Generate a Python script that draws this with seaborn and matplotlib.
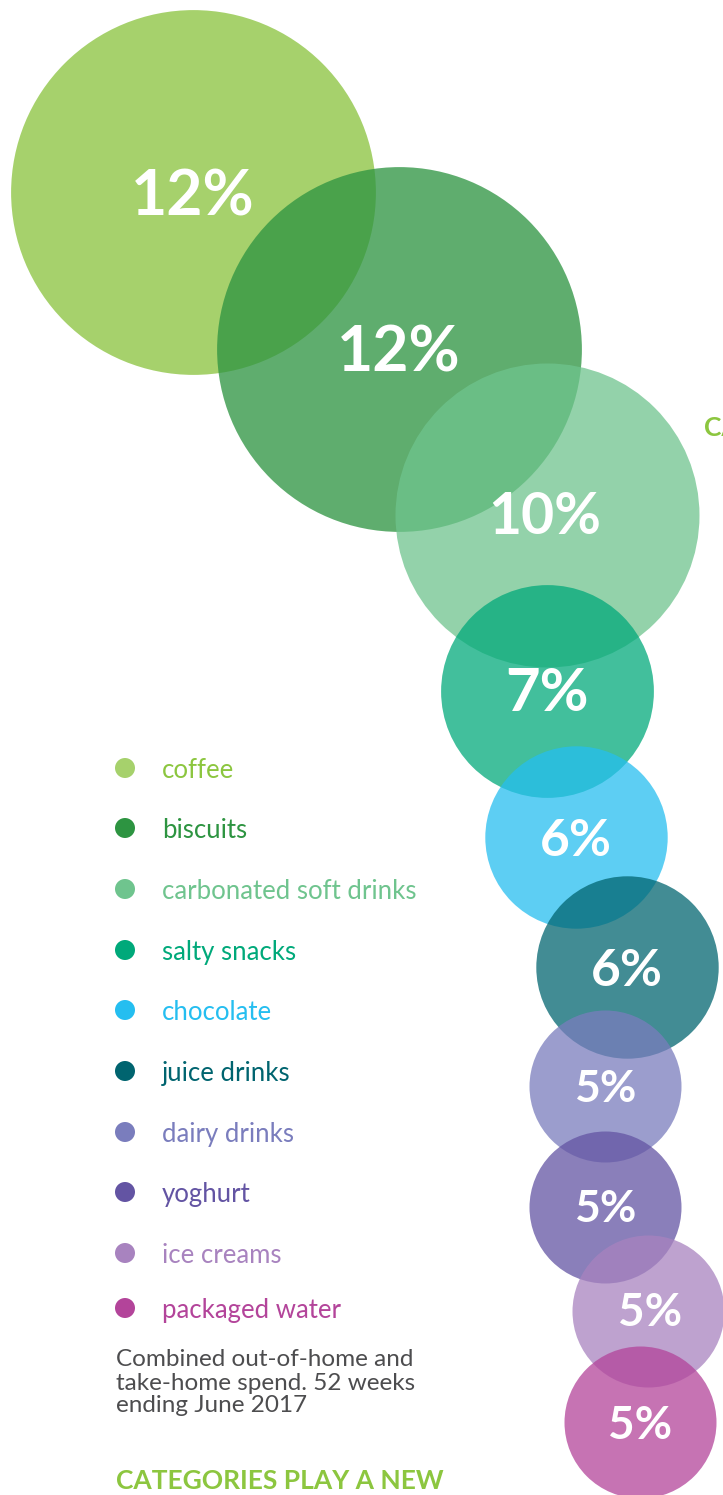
import matplotlib
matplotlib.use("Agg")
import matplotlib.pyplot as plt
import seaborn as sns
import pandas as pd

# ---- data ----
categories = ["coffee", "biscuits", "carbonated soft drinks", "salty snacks", "chocolate",
              "juice drinks", "dairy drinks", "yoghurt", "ice creams", "packaged water"]
shares = [12, 12, 10, 7, 6, 6, 5, 5, 5, 5]
labels = ["12%", "12%", "10%", "7%", "6%", "6%", "5%", "5%", "5%", "5%"]
colors = ["#a6d16c", "#2d9441", "#6fc48e", "#00a97a", "#25bef0",
          "#00646f", "#7a7dbd", "#6354a3", "#a883bf", "#b3449a"]
footnote_lines = ["Combined out-of-home and", "take-home spend. 52 weeks", "ending June 2017"]
heading = "CATEGORIES PLAY A NEW"

# ---- layout (pixel positions) ----
W, H = 723, 1495
bubble_x = [193, 399, 547, 547, 576, 627, 605, 605, 648, 640]
bubble_y = [192, 349, 515, 691, 837, 967, 1086, 1207, 1311, 1422]
label_dx = [0, 0, -2, 0, 0, 0, 0, 0, 2, 0]
label_dy = [5, 4, 3, 3, 4, 4, 3, 2, 2, 4]
label_fs = [45, 45, 41, 43, 37, 37, 32, 32, 33, 33]
alphas = [1.0, 0.76, 0.75, 0.74, 0.74, 0.74, 0.75, 0.75, 0.75, 0.75]
px_per_pct = 15.2
legend_x = 125
legend_y = [768, 828, 889, 950, 1010, 1071, 1132, 1192, 1253, 1308]
foot_y = [1357, 1381, 1404]
text_colors = list(colors)
text_colors[0] = "#8cc63f"

sns.set_theme(style="white")
plt.rcParams["font.family"] = ["Lato", "DejaVu Sans"]

fig = plt.figure(figsize=(W / 100, H / 100), dpi=100)
ax = fig.add_axes([0, 0, 1, 1])
ax.set_xlim(0, W)
ax.set_ylim(H, 0)
ax.axis("off")

pt_per_px = 72 / 100
df = pd.DataFrame({"category": categories, "share": shares, "x": bubble_x, "y": bubble_y})
for i, row in df.iterrows():
    r_px = row["share"] * px_per_pct
    s = (2 * r_px * pt_per_px) ** 2
    sns.scatterplot(x=[row["x"]], y=[row["y"]], s=s, color=colors[i], alpha=alphas[i],
                    linewidth=0, ax=ax, legend=False)
    ax.text(row["x"] + label_dx[i], row["y"] + label_dy[i], labels[i], color="white",
            fontsize=label_fs[i], fontweight="bold", ha="center", va="center", zorder=5)

# legend dots and labels
leg = pd.DataFrame({"category": categories, "x": [legend_x] * len(categories), "y": legend_y})
sns.scatterplot(data=leg, x="x", y="y", hue="category", palette=dict(zip(categories, colors)),
                s=(20 * pt_per_px) ** 2, linewidth=0, ax=ax, legend=False)
for i, c in enumerate(categories):
    ax.text(162, legend_y[i], c, color=text_colors[i], fontsize=18.5, fontweight="normal",
            ha="left", va="center_baseline")

for line, yy in zip(footnote_lines, foot_y):
    ax.text(116, yy, line, color="#4d4d4f", fontsize=17.5, fontweight="normal",
            ha="left", va="center_baseline")
ax.text(116, 1481, heading, color="#8cc63f", fontsize=19, fontweight="bold",
        ha="left", va="center")
ax.text(704, 428, "CATEGORIES", color="#8cc63f", fontsize=19, fontweight="bold",
        ha="left", va="center", clip_on=False)
ax.set_xlabel("")
ax.set_ylabel("")

fig.savefig("out.png", dpi=100)
